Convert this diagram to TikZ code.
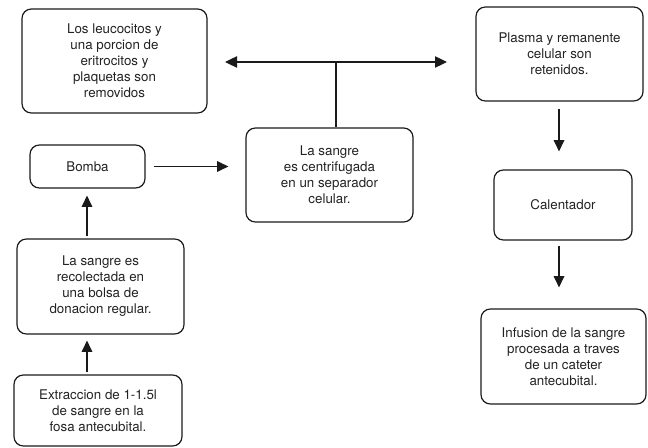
\documentclass[tikz,border=0pt]{standalone}
\usepackage{fontspec}
\setmainfont{TeX Gyre Heros}
\usepackage{xcolor}
\usepackage{tikz}
\usetikzlibrary{arrows.meta}
\definecolor{boxLine}{HTML}{1A1A1A}
\definecolor{textGrey}{HTML}{222222}
\tikzset{
  stepbox/.style 2 args={rectangle, rounded corners=7pt, draw=boxLine, line width=0.9pt, align=center, font=\fontsize{10}{12}\selectfont, text=textGrey, minimum width=#1, minimum height=#2, inner sep=2pt},
  flowarrow/.style={-{Triangle[length=8.5pt,width=8pt]}, line width=0.9pt, draw=boxLine},
  splitarrow/.style={{Triangle[length=9pt,width=8.5pt]}-{Triangle[length=9pt,width=8.5pt]}, line width=0.9pt, draw=boxLine},
  plainline/.style={line width=0.9pt, draw=boxLine},
}

\begin{document}
\begin{tikzpicture}[x=0.75pt,y=-0.75pt]
  \useasboundingbox (0,0) rectangle (648,448);

  % Left column
  \node[stepbox={138.75pt}{78pt}] (remov) at (114.5, 61) {Los leucocitos y \\ una porcion de \\ eritrocitos y \\ plaquetas son \\ removidos};
  \node[stepbox={86.25pt}{32.25pt}] (bomba) at (87.5, 166.5) {Bomba};
  \node[stepbox={125.25pt}{71.25pt}] (recol) at (100.5, 286.5) {La sangre es \\ recolectada en \\ una bolsa de \\ donacion regular.};
  \node[stepbox={126pt}{53.25pt}] (extrac) at (98, 410.5) {Extraccion de 1-1.5l \\ de sangre en la \\ fosa antecubital.};

  % Separator
  \node[stepbox={125.25pt}{70.5pt}] (centri) at (329.5, 175) {La sangre \\ es centrifugada \\ en un separador \\ celular.};

  % Right column
  \node[stepbox={125.25pt}{70.5pt}] (plasma) at (559.5, 54) {Plasma y remanente \\ celular son \\ retenidos.};
  \node[stepbox={103.5pt}{52.5pt}] (calent) at (563, 205) {Calentador};
  \node[stepbox={123.75pt}{71.25pt}] (infus) at (563.5, 356.5) {Infusion de la sangre \\ procesada a traves \\ de un cateter \\ antecubital.};

  % Split
  \coordinate (split) at (336, 62);
  \coordinate (splitL) at (225, 62);
  \coordinate (splitR) at (447, 62);
  \draw[splitarrow] (splitL) -- (splitR);
  \draw[plainline] (split) -- (split |- centri.north);

  % Arrows
  \draw[flowarrow, shorten <=6pt, shorten >=12.75pt] (bomba.east) -- (bomba.east -| centri.west);
  \draw[flowarrow, shorten <=1.5pt, shorten >=4.5pt] (extrac.north -| 87,0) -- (recol.south -| 87,0);
  \draw[flowarrow, shorten <=1.5pt, shorten >=5.25pt] (recol.north -| 87,0) -- (bomba.south -| 87,0);
  \draw[flowarrow, shorten <=5.25pt, shorten >=13.5pt] (plasma.south -| 559,0) -- (calent.north -| 559,0);
  \draw[flowarrow, shorten <=3.75pt, shorten >=15.75pt] (calent.south -| 559,0) -- (infus.north -| 559,0);
\end{tikzpicture}
\end{document}
